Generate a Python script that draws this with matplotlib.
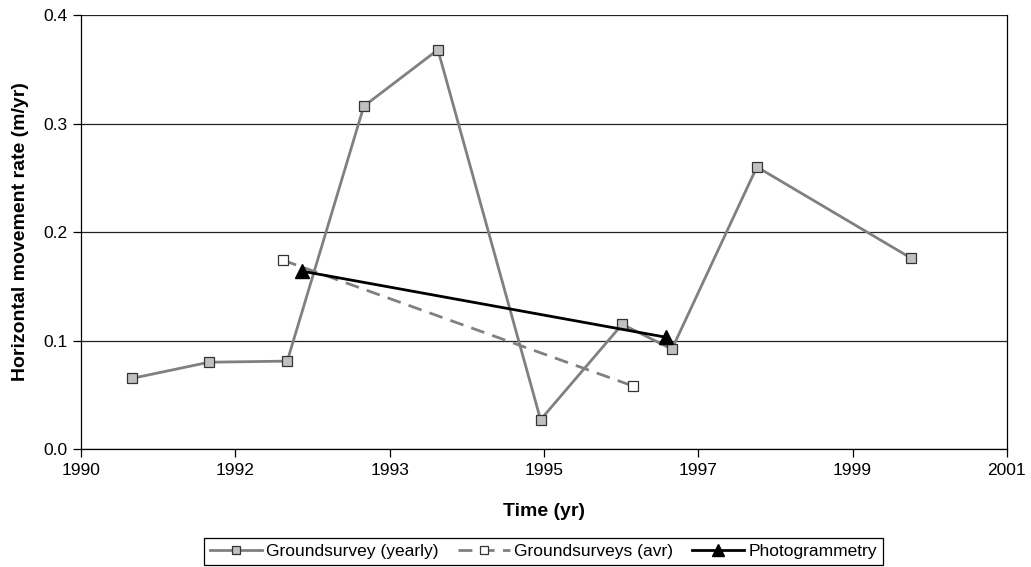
import numpy as np
import matplotlib.pyplot as plt

plt.rcParams['font.family'] = ['Liberation Sans', 'DejaVu Sans']

# yearly ground survey rates
yearly_t = [1990.60, 1991.52, 1992.45, 1993.36, 1994.24, 1995.46, 1996.43, 1997.02, 1998.03, 1999.86]
yearly_v = [0.065, 0.080, 0.081, 0.316, 0.368, 0.027, 0.115, 0.092, 0.260, 0.176]

# averaged ground surveys
avr_t = [1992.40, 1996.56]
avr_v = [0.174, 0.058]

# photogrammetry
photo_t = [1992.62, 1996.95]
photo_v = [0.164, 0.103]

xticks = np.linspace(1990, 2001, 7)
xlabels = ['1990', '1992', '1993', '1995', '1997', '1999', '2001']
yticks = [0.0, 0.1, 0.2, 0.3, 0.4]

fig = plt.figure(figsize=(10.31, 5.67), dpi=100)
ax = fig.add_axes([0.0786, 0.2081, 0.898, 0.7654])

ax.plot(yearly_t, yearly_v, color='#808080', lw=2.0, marker='s', ms=7,
        mfc='#c0c0c0', mec='#333333', mew=0.9, label='Groundsurvey (yearly)', zorder=3)
ax.plot(avr_t, avr_v, color='#808080', lw=2.0, ls=(0, (5, 3)), marker='s', ms=7,
        mfc='white', mec='#333333', mew=0.9, label='Groundsurveys (avr)', zorder=3)
ax.plot(photo_t, photo_v, color='black', lw=2.0, marker='^', ms=10,
        mfc='black', mec='black', label='Photogrammetry', zorder=4)

ax.set_xlim(1990, 2001)
ax.set_ylim(0, 0.4)
ax.set_xticks(xticks)
ax.set_xticklabels(xlabels)
ax.set_yticks(yticks)
ax.set_yticklabels(['%.1f' % v for v in yticks])
ax.grid(axis='y', color='#222222', lw=0.9)
ax.set_axisbelow(True)

for s in ['left', 'bottom', 'right']:
    ax.spines[s].set_color('black')
    ax.spines[s].set_linewidth(0.9)
ax.spines['top'].set_visible(False)
ax.tick_params(direction='out', length=6, width=0.9, labelsize=12.5, colors='black', pad=4)

ax.set_xlabel('Time (yr)', fontsize=14, fontweight='bold', labelpad=18)
ax.set_ylabel('Horizontal movement rate (m/yr)', fontsize=14, fontweight='bold', labelpad=10)

leg = fig.legend(loc='upper center', bbox_to_anchor=(0.527, 0.051), ncol=3, fontsize=12.5,
                 frameon=True, fancybox=False, edgecolor='black', framealpha=1,
                 handlelength=3.0, handletextpad=0.25, columnspacing=1.1, borderpad=0.35,
                 borderaxespad=0.0, markerscale=0.8)
leg.get_frame().set_linewidth(0.9)

fig.savefig('out.png', dpi=100)
